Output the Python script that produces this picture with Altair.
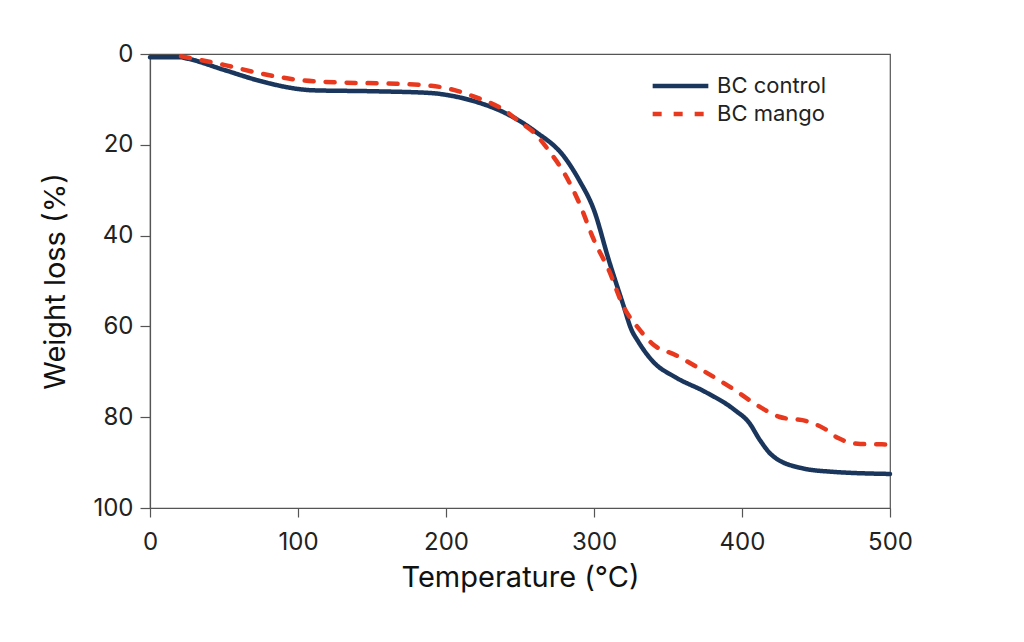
import altair as alt
import pandas as pd

ctrl_T = [0, 20, 25, 50, 75, 100, 110, 150, 190, 200, 220, 240, 260, 280, 290, 300, 310, 320, 325, 330, 340, 355, 375, 395, 405, 412, 420, 440, 460, 500]
ctrl_W = [0.7, 0.7, 1.0, 3.5, 6.0, 7.7, 8.0, 8.2, 8.6, 9.0, 10.5, 13.0, 17.0, 22.7, 27.8, 34.4, 45.4, 55.5, 60.5, 63.4, 67.8, 71.2, 74.4, 78.4, 81.3, 85.0, 88.3, 91.2, 92.0, 92.5]

mango_T = [21, 50, 75, 100, 130, 160, 190, 200, 220, 240, 250, 260, 270, 280, 290, 300, 310, 320, 330, 340, 355, 375, 395, 410, 425, 445, 455, 465, 480, 500]
mango_W = [0.5, 2.4, 4.3, 5.7, 6.3, 6.5, 7.0, 7.5, 9.5, 12.5, 15.0, 17.5, 21.5, 26.3, 32.8, 41.0, 47.6, 55.7, 60.4, 64.0, 66.3, 70.0, 74.0, 77.3, 79.9, 81.0, 82.4, 84.6, 85.9, 86.0]

series = ["BC control", "BC mango"]

df = pd.concat([
    pd.DataFrame({"T": ctrl_T, "W": ctrl_W, "s": series[0]}),
    pd.DataFrame({"T": mango_T, "W": mango_W, "s": series[1]}),
])

FONT = "Inter"

chart = alt.Chart(df).mark_line(interpolate="monotone", strokeWidth=4.5, strokeCap="round").encode(
    x=alt.X("T:Q", title="Temperature (°C)",
            scale=alt.Scale(domain=[0, 500], nice=False, zero=False),
            axis=alt.Axis(values=[0, 100, 200, 300, 400, 500], grid=False, tickSize=9,
                          labelFlush=False, labelPadding=13, titlePadding=9)),
    y=alt.Y("W:Q", title="Weight loss (%)",
            scale=alt.Scale(domain=[0, 100], reverse=True, nice=False),
            axis=alt.Axis(values=[0, 20, 40, 60, 80, 100], grid=False, tickSize=10,
                          labelPadding=7, titlePadding=22)),
    color=alt.Color("s:N", scale=alt.Scale(domain=series, range=["#1b365d", "#e8391f"]),
                    legend=alt.Legend(title=None, orient="none", legendX=500, legendY=18,
                                      symbolType="stroke", symbolSize=3100, symbolStrokeWidth=4.5,
                                      labelFontSize=22, labelFont=FONT, labelColor="#222",
                                      clipHeight=28, rowPadding=0, labelOffset=6)),
    strokeDash=alt.StrokeDash("s:N", scale=alt.Scale(domain=series, range=[[1, 0], [9, 12]]), legend=None),
    detail="s:N",
).properties(
    width=740, height=454,
    padding={"left": 142, "top": 46, "right": 126, "bottom": 126},
    autosize=alt.AutoSizeParams(type="none"),
).configure_view(
    stroke="#555", strokeWidth=1.2
).configure_axis(
    domainColor="#555", tickColor="#555", domainWidth=1.2, tickWidth=1.2,
    labelFont=FONT, titleFont=FONT, labelFontSize=24, titleFontSize=29,
    labelColor="#222", titleColor="#111", titleFontWeight="normal"
)

chart.save("out.html", embed_options={"renderer": "svg", "actions": False})
